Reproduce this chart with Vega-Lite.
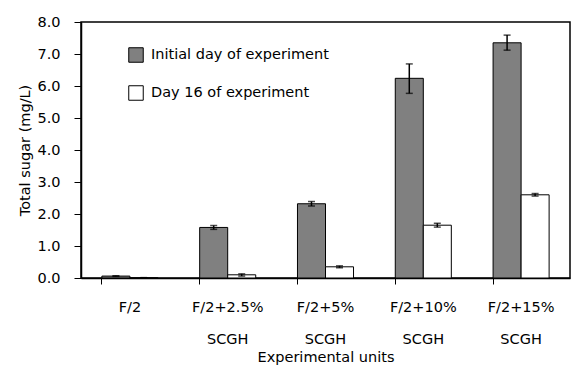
{
  "$schema": "https://vega.github.io/schema/vega-lite/v6.json",
  "autosize": {"type": "none"},
  "width": 489,
  "height": 256,
  "padding": {"left": 81, "top": 22, "right": 1, "bottom": 87},
  "background": "white",
  "config": {
    "font": "DejaVu Sans",
    "view": {"stroke": "black", "strokeWidth": 1.5},
    "axis": {"labelColor": "black", "titleColor": "black", "domainColor": "black", "tickColor": "black", "labelFontSize": 14.5, "titleFontSize": 14.5, "titleFontWeight": "normal", "grid": false, "domainWidth": 1.5}
  },
  "data": {
    "values": [
      {"unit": "F/2", "series": "Initial day of experiment", "value": 0.06, "lo": 0.05, "hi": 0.07},
      {"unit": "F/2", "series": "Day 16 of experiment", "value": 0.01, "lo": 0.01, "hi": 0.01},
      {"unit": "F/2+2.5%|SCGH", "series": "Initial day of experiment", "value": 1.58, "lo": 1.52, "hi": 1.64},
      {"unit": "F/2+2.5%|SCGH", "series": "Day 16 of experiment", "value": 0.1, "lo": 0.06, "hi": 0.13},
      {"unit": "F/2+5%|SCGH", "series": "Initial day of experiment", "value": 2.32, "lo": 2.25, "hi": 2.39},
      {"unit": "F/2+5%|SCGH", "series": "Day 16 of experiment", "value": 0.35, "lo": 0.32, "hi": 0.38},
      {"unit": "F/2+10%|SCGH", "series": "Initial day of experiment", "value": 6.24, "lo": 5.77, "hi": 6.69},
      {"unit": "F/2+10%|SCGH", "series": "Day 16 of experiment", "value": 1.65, "lo": 1.59, "hi": 1.71},
      {"unit": "F/2+15%|SCGH", "series": "Initial day of experiment", "value": 7.35, "lo": 7.12, "hi": 7.59},
      {"unit": "F/2+15%|SCGH", "series": "Day 16 of experiment", "value": 2.6, "lo": 2.56, "hi": 2.64}
    ]
  },
  "encoding": {
    "x": {
      "field": "unit", "type": "nominal", "sort": null,
      "scale": {"paddingInner": 0.427, "paddingOuter": 0.2135},
      "axis": {"title": "Experimental units", "labelAngle": 0, "bandPosition": 0, "tickSize": 6, "labelPadding": 16, "labelLineHeight": 32, "labelBaseline": "top", "labelExpr": "split(datum.label, '|')", "titlePadding": 5}
    },
    "xOffset": {"field": "series", "type": "nominal", "sort": ["Initial day of experiment", "Day 16 of experiment"], "scale": {"paddingInner": 0, "paddingOuter": 0}}
  },
  "layer": [
    {
      "mark": {"type": "bar", "stroke": "black", "strokeWidth": 1},
      "encoding": {
        "y": {"field": "value", "type": "quantitative", "scale": {"domain": [0, 8], "nice": false}, "axis": {"title": "Total sugar (mg/L)", "tickCount": 8, "format": ".1f", "tickSize": 7, "labelPadding": 14, "titlePadding": 4}},
        "fill": {
          "field": "series", "type": "nominal", "sort": ["Initial day of experiment", "Day 16 of experiment"],
          "scale": {"domain": ["Initial day of experiment", "Day 16 of experiment"], "range": ["#808080", "#ffffff"]},
          "legend": {"title": null, "orient": "none", "legendX": 47, "legendY": 25, "symbolType": "square", "symbolSize": 210, "symbolStrokeColor": "black", "symbolStrokeWidth": 1, "labelFontSize": 14.5, "labelColor": "black", "labelOffset": 7, "labelLimit": 0, "rowPadding": 18}
        }
      }
    },
    {
      "mark": {"type": "rule", "color": "black", "strokeWidth": 1.5},
      "encoding": {"y": {"field": "lo", "type": "quantitative"}, "y2": {"field": "hi"}}
    },
    {
      "mark": {"type": "tick", "color": "black", "thickness": 1.5, "size": 7},
      "encoding": {"y": {"field": "lo", "type": "quantitative"}}
    },
    {
      "mark": {"type": "tick", "color": "black", "thickness": 1.5, "size": 7},
      "encoding": {"y": {"field": "hi", "type": "quantitative"}}
    }
  ]
}
